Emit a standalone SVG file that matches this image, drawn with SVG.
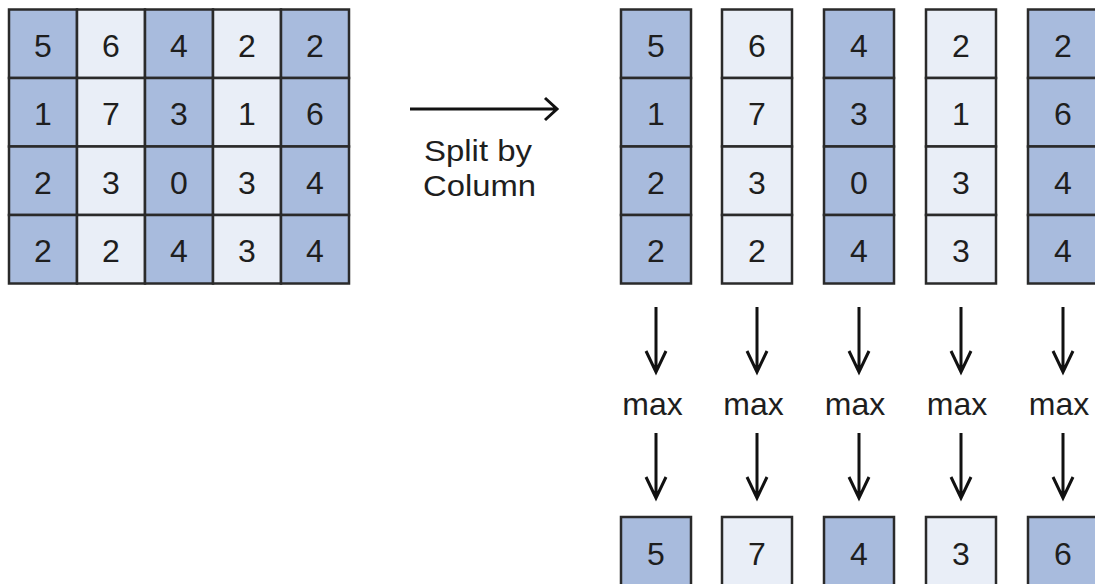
<svg xmlns="http://www.w3.org/2000/svg" width="1095" height="584" viewBox="0 0 1095 584">
<style>
.d{fill:#a8bbdd;stroke:#2a2a2a;stroke-width:2.5}
.l{fill:#e9eef7;stroke:#2a2a2a;stroke-width:2.5}
.t{font-family:"Liberation Sans",Arial,sans-serif;font-size:32px;fill:#1e1e1e;text-anchor:middle}
.lbl{font-family:"Liberation Sans",Arial,sans-serif;font-size:30px;fill:#1e1e1e}
.c{stroke:#111;stroke-width:3;fill:none}
</style>
<rect width="1095" height="584" fill="#ffffff"/>
<g id="matrix">
<rect class="d" x="9" y="9.5" width="68" height="68.5"/><rect class="l" x="77" y="9.5" width="68" height="68.5"/><rect class="d" x="145" y="9.5" width="68" height="68.5"/><rect class="l" x="213" y="9.5" width="68" height="68.5"/><rect class="d" x="281" y="9.5" width="68" height="68.5"/>
<rect class="d" x="9" y="78" width="68" height="68.5"/><rect class="l" x="77" y="78" width="68" height="68.5"/><rect class="d" x="145" y="78" width="68" height="68.5"/><rect class="l" x="213" y="78" width="68" height="68.5"/><rect class="d" x="281" y="78" width="68" height="68.5"/>
<rect class="d" x="9" y="146.5" width="68" height="68.5"/><rect class="l" x="77" y="146.5" width="68" height="68.5"/><rect class="d" x="145" y="146.5" width="68" height="68.5"/><rect class="l" x="213" y="146.5" width="68" height="68.5"/><rect class="d" x="281" y="146.5" width="68" height="68.5"/>
<rect class="d" x="9" y="215" width="68" height="68.5"/><rect class="l" x="77" y="215" width="68" height="68.5"/><rect class="d" x="145" y="215" width="68" height="68.5"/><rect class="l" x="213" y="215" width="68" height="68.5"/><rect class="d" x="281" y="215" width="68" height="68.5"/>
<text class="t" x="43" y="56.5">5</text><text class="t" x="111" y="56.5">6</text><text class="t" x="179" y="56.5">4</text><text class="t" x="247" y="56.5">2</text><text class="t" x="315" y="56.5">2</text>
<text class="t" x="43" y="125">1</text><text class="t" x="111" y="125">7</text><text class="t" x="179" y="125">3</text><text class="t" x="247" y="125">1</text><text class="t" x="315" y="125">6</text>
<text class="t" x="43" y="193.5">2</text><text class="t" x="111" y="193.5">3</text><text class="t" x="179" y="193.5">0</text><text class="t" x="247" y="193.5">3</text><text class="t" x="315" y="193.5">4</text>
<text class="t" x="43" y="262">2</text><text class="t" x="111" y="262">2</text><text class="t" x="179" y="262">4</text><text class="t" x="247" y="262">3</text><text class="t" x="315" y="262">4</text>
</g>
<g id="split-label">
<text class="lbl" x="424" y="161" textLength="108" lengthAdjust="spacingAndGlyphs">Split by</text>
<text class="lbl" x="423" y="196" textLength="113" lengthAdjust="spacingAndGlyphs">Column</text>
</g>
<g id="col1">
<rect class="d" x="621" y="9.5" width="70" height="68.5"/><rect class="d" x="621" y="78" width="70" height="68.5"/><rect class="d" x="621" y="146.5" width="70" height="68.5"/><rect class="d" x="621" y="215" width="70" height="68.5"/>
<text class="t" x="656" y="56.5">5</text><text class="t" x="656" y="125">1</text><text class="t" x="656" y="193.5">2</text><text class="t" x="656" y="262">2</text>
</g>
<g id="col2">
<rect class="l" x="722" y="9.5" width="70" height="68.5"/><rect class="l" x="722" y="78" width="70" height="68.5"/><rect class="l" x="722" y="146.5" width="70" height="68.5"/><rect class="l" x="722" y="215" width="70" height="68.5"/>
<text class="t" x="757" y="56.5">6</text><text class="t" x="757" y="125">7</text><text class="t" x="757" y="193.5">3</text><text class="t" x="757" y="262">2</text>
</g>
<g id="col3">
<rect class="d" x="824" y="9.5" width="70" height="68.5"/><rect class="d" x="824" y="78" width="70" height="68.5"/><rect class="d" x="824" y="146.5" width="70" height="68.5"/><rect class="d" x="824" y="215" width="70" height="68.5"/>
<text class="t" x="859" y="56.5">4</text><text class="t" x="859" y="125">3</text><text class="t" x="859" y="193.5">0</text><text class="t" x="859" y="262">4</text>
</g>
<g id="col4">
<rect class="l" x="926" y="9.5" width="70" height="68.5"/><rect class="l" x="926" y="78" width="70" height="68.5"/><rect class="l" x="926" y="146.5" width="70" height="68.5"/><rect class="l" x="926" y="215" width="70" height="68.5"/>
<text class="t" x="961" y="56.5">2</text><text class="t" x="961" y="125">1</text><text class="t" x="961" y="193.5">3</text><text class="t" x="961" y="262">3</text>
</g>
<g id="col5">
<rect class="d" x="1028" y="9.5" width="70" height="68.5"/><rect class="d" x="1028" y="78" width="70" height="68.5"/><rect class="d" x="1028" y="146.5" width="70" height="68.5"/><rect class="d" x="1028" y="215" width="70" height="68.5"/>
<text class="t" x="1063" y="56.5">2</text><text class="t" x="1063" y="125">6</text><text class="t" x="1063" y="193.5">4</text><text class="t" x="1063" y="262">4</text>
</g>
<g id="max-labels">
<text class="t" x="652.5" y="415">max</text>
<text class="t" x="753.5" y="415">max</text>
<text class="t" x="855" y="415">max</text>
<text class="t" x="957" y="415">max</text>
<text class="t" x="1059" y="415">max</text>
</g>
<g id="results">
<g id="r1"><rect class="d" x="621" y="517" width="70" height="80"/><text class="t" x="656" y="565">5</text></g>
<g id="r2"><rect class="l" x="722" y="517" width="70" height="80"/><text class="t" x="757" y="565">7</text></g>
<g id="r3"><rect class="d" x="824" y="517" width="70" height="80"/><text class="t" x="859" y="565">4</text></g>
<g id="r4"><rect class="l" x="926" y="517" width="70" height="80"/><text class="t" x="961" y="565">3</text></g>
<g id="r5"><rect class="d" x="1028" y="517" width="70" height="80"/><text class="t" x="1063" y="565">6</text></g>
</g>
<g id="connectors">
<path class="c" d="M410 109H556M545 98L557 109L545 120"/>
<path class="c" d="M656 307V372M646 351L656 372L666 351"/>
<path class="c" d="M757 307V372M747 351L757 372L767 351"/>
<path class="c" d="M859 307V372M849 351L859 372L869 351"/>
<path class="c" d="M961 307V372M951 351L961 372L971 351"/>
<path class="c" d="M1063 307V372M1053 351L1063 372L1073 351"/>
<path class="c" d="M656 433V498M646 477L656 498L666 477"/>
<path class="c" d="M757 433V498M747 477L757 498L767 477"/>
<path class="c" d="M859 433V498M849 477L859 498L869 477"/>
<path class="c" d="M961 433V498M951 477L961 498L971 477"/>
<path class="c" d="M1063 433V498M1053 477L1063 498L1073 477"/>
</g>
</svg>
